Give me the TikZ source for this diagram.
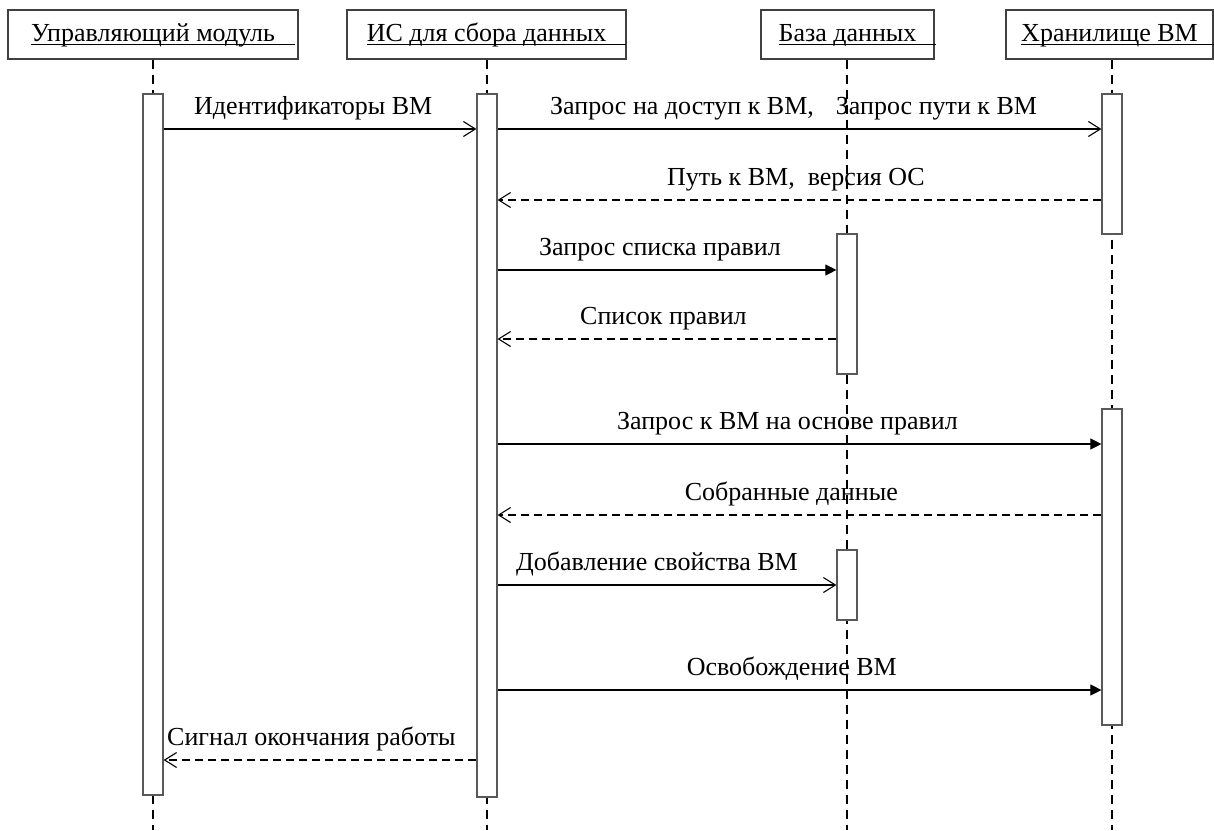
\documentclass[tikz,border=0pt]{standalone}
\usepackage{fontspec}
\setmainfont{Liberation Serif}
\usetikzlibrary{arrows.meta}
\newcommand\ulbox[2]{\setbox0\hbox{#1}\rlap{\vrule height -2.2pt depth 3.4pt width \dimexpr\wd0+#2\relax}\box0}
\tikzset{
  lifeline/.style={draw=black, line width=2.2pt, dash pattern=on 9pt off 6pt},
  actbox/.style={draw=black!65, fill=white, line width=1.2pt, minimum width=20pt, inner sep=0pt},
  hdr/.style={draw=black!75, fill=white, line width=1.2pt, inner sep=0pt, text height=17pt, text depth=3pt, minimum height=49pt, font=\fontsize{26}{31}\selectfont},
  lbl/.style={inner sep=0pt, font=\fontsize{26}{31}\selectfont},
  callopen/.style={draw=black, line width=1.1pt, -{Straight Barb[length=12pt,width=15pt,line width=1.1pt]}},
  callfill/.style={draw=black, line width=1.1pt, -{Triangle[length=11pt,width=11pt]}},
  reply/.style={draw=black, line width=2.2pt, dash pattern=on 8pt off 5pt, -{Straight Barb[length=12pt,width=15pt,line width=1.1pt]}}
}
\begin{document}
\begin{tikzpicture}[x=1pt,y=-1pt]
\useasboundingbox (0,0) rectangle (1214,830);
% headers
\node[hdr, minimum width=290pt] (h1) at (153,34.5) {\ulbox{Управляющий модуль}{20pt}};
\node[hdr, minimum width=279pt] (h2) at (486.5,34.5) {\ulbox{ИС для сбора данных}{20pt}};
\node[hdr, minimum width=173pt] (h3) at (847.5,34.5) {\ulbox{База данных}{20pt}};
\node[hdr, minimum width=207pt] (h4) at (1109.5,34.5) {\ulbox{Хранилище ВМ}{20pt}};
% lifeline ends
\coordinate (e1) at (153,830);
\coordinate (e2) at (487,830);
\coordinate (e3) at (847,830);
\coordinate (e4) at (1112,830);
\draw[lifeline] (h1.south) -- (e1);
\draw[lifeline] (h2.south -| e2) -- (e2);
\draw[lifeline] (h3.south -| e3) -- (e3);
\draw[lifeline] (h4.south -| e4) -- (e4);
% activations
\node[actbox, minimum height=701pt] (a1) at (153,444.5) {};
\node[actbox, minimum height=703pt] (a2) at (487,445.5) {};
\node[actbox, minimum height=140pt] (d1) at (847,304) {};
\node[actbox, minimum height=70pt] (d2) at (847,585) {};
\node[actbox, minimum height=140pt] (s1) at (1112,164) {};
\node[actbox, minimum height=316pt] (s2) at (1112,567) {};
% message rows
\coordinate (r1) at (0,129);
\coordinate (r2) at (0,200);
\coordinate (r3) at (0,270);
\coordinate (r4) at (0,339);
\coordinate (r5) at (0,444);
\coordinate (r6) at (0,515);
\coordinate (r7) at (0,585);
\coordinate (r8) at (0,690);
\coordinate (r9) at (0,760);
% messages
\draw[callopen] (a1.east |- r1) -- (a2.west |- r1);
\draw[callopen] (a2.east |- r1) -- (s1.west |- r1);
\draw[reply] (s1.west |- r2) -- (a2.east |- r2);
\draw[callfill] (a2.east |- r3) -- (d1.west |- r3);
\draw[reply] (d1.west |- r4) -- (a2.east |- r4);
\draw[callfill] (a2.east |- r5) -- (s2.west |- r5);
\draw[reply] (s2.west |- r6) -- (a2.east |- r6);
\draw[callopen] (a2.east |- r7) -- (d2.west |- r7);
\draw[callfill] (a2.east |- r8) -- (s2.west |- r8);
\draw[reply] (a2.west |- r9) -- (a1.east |- r9);
% labels
\node[lbl, anchor=base west] (m1) at (194,114) {Идентификаторы ВМ};
\node[lbl, anchor=base west] (m2) at (550,114) {Запрос на доступ к ВМ,\hspace{22pt}Запрос пути к ВМ};
\node[lbl, anchor=base west] (m3) at (667,185) {Путь к ВМ,\ \ версия ОС};
\node[lbl, anchor=base west] (m4) at (539,255) {Запрос списка правил};
\node[lbl, anchor=base west] (m5) at (580,324) {Список правил};
\node[lbl, anchor=base east] (m6) at (958,429) {Запрос к ВМ на основе правил};
\node[lbl, anchor=base east] (m7) at (898,500) {Собранные данные};
\node[lbl, anchor=base east] (m8) at (798,570) {Добавление свойства ВМ};
\node[lbl, anchor=base east] (m9) at (897,675) {Освобождение ВМ};
\node[lbl, anchor=base west] (m10) at (167,745) {Сигнал окончания работы};
\end{tikzpicture}
\end{document}
